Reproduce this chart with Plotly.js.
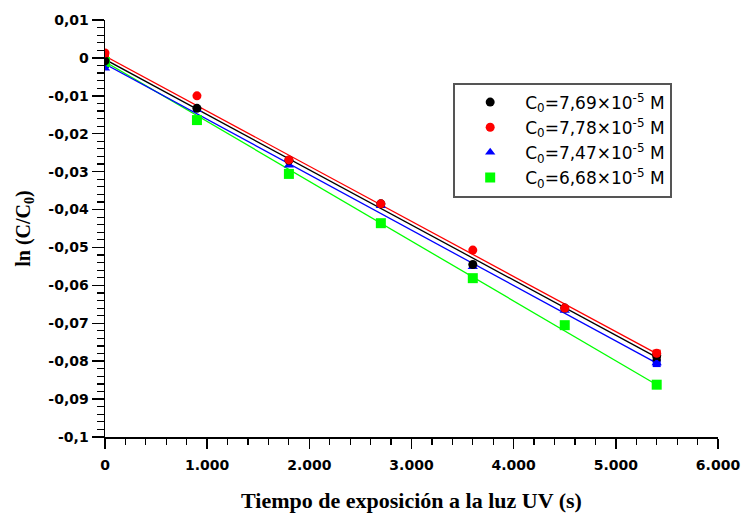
<!DOCTYPE html>
<html>
<head>
<meta charset="utf-8">
<script src="https://cdn.plot.ly/plotly-3.0.1.min.js"></script>
<style>html,body{margin:0;padding:0;background:#fff;}#chart{width:745px;height:527px;}</style>
</head>
<body>
<div id="chart"></div>
<script>
// Data
var timeS = [0, 900, 1800, 2700, 3600, 4500, 5400];
var seriesNames = [
  "C<sub>0</sub>=7,69×10<sup>-5</sup> M",
  "C<sub>0</sub>=7,78×10<sup>-5</sup> M",
  "C<sub>0</sub>=7,47×10<sup>-5</sup> M",
  "C<sub>0</sub>=6,68×10<sup>-5</sup> M"
];
var lnBlack = [-0.0008, -0.0133, -0.0270, -0.0385, -0.0545, -0.0660, -0.0785];
var lnRed   = [0.0013, -0.0100, -0.0269, -0.0385, -0.0507, -0.0660, -0.0779];
var lnBlue  = [-0.0027, -0.0137, -0.0283, -0.0390, -0.0551, -0.0666, -0.0805];
var lnGreen = [-0.0011, -0.0164, -0.0306, -0.0436, -0.0581, -0.0705, -0.0862];
// Fitted line end points
var fitX = [0, 5400];
var fitBlack = [-0.0004, -0.0790];
var fitRed   = [0.0005, -0.0780];
var fitBlue  = [-0.0016, -0.0805];
var fitGreen = [-0.0010, -0.0862];
var yTickVals = [0.01, 0, -0.01, -0.02, -0.03, -0.04, -0.05, -0.06, -0.07, -0.08, -0.09, -0.1];
var yTickText = ["0,01", "0", "-0,01", "-0,02", "-0,03", "-0,04", "-0,05", "-0,06", "-0,07", "-0,08", "-0,09", "-0,1"];
var xTickVals = [0, 1000, 2000, 3000, 4000, 5000, 6000];
var xTickText = ["0", "1.000", "2.000", "3.000", "4.000", "5.000", "6.000"];

function bold(arr) { return arr.map(function(t){ return "<b>" + t + "</b>"; }); }

var colors = ["#000000", "#ff0000", "#0000ff", "#00ff00"];
var symbols = ["circle", "circle", "triangle-up", "square"];
var pts = [lnBlack, lnRed, lnBlue, lnGreen];
var fits = [fitBlack, fitRed, fitBlue, fitGreen];

var traces = [];
var order = [3, 2, 0, 1];
order.forEach(function(i){
  traces.push({
    x: fitX, y: fits[i], mode: "lines+markers", type: "scatter",
    line: {color: colors[i], width: 1.3},
    marker: {symbol: "square", size: 8, color: colors[i]},
    showlegend: false, hoverinfo: "skip"
  });
});
order.forEach(function(i){
  traces.push({
    x: timeS, y: pts[i], mode: "markers", type: "scatter",
    name: seriesNames[i], legendrank: i + 1,
    marker: {symbol: symbols[i], size: i === 3 ? 10 : 9, color: colors[i]}
  });
});

var tickFont = {family: "DejaVu Sans", size: 14, color: "#000", weight: 700};

var layout = {
  width: 745, height: 527,
  margin: {l: 105, r: 27, t: 20, b: 90},
  paper_bgcolor: "#ffffff", plot_bgcolor: "#ffffff",
  showlegend: true,
  legend: {
    x: 0.568, y: 0.85, xanchor: "left", yanchor: "top",
    bordercolor: "#555555", borderwidth: 2, bgcolor: "#ffffff",
    font: {family: "DejaVu Sans", size: 17, color: "#000"},
    itemwidth: 60,
    traceorder: "normal"
  },
  xaxis: {
    range: [0, 6000], showgrid: false, zeroline: false,
    showline: true, linecolor: "#000", linewidth: 1.5,
    ticks: "outside", ticklen: 10, tickwidth: 1.5, tickcolor: "#000",
    tickmode: "array", tickvals: xTickVals, ticktext: bold(xTickText),
    ticklabelstandoff: 5,
    minor: {dtick: 200, ticks: "outside", ticklen: 6, tickwidth: 1.2, tickcolor: "#000", showgrid: false},
    tickfont: tickFont,
    title: {text: "<b>Tiempo de exposición a la luz UV (s)</b>", standoff: 20,
      font: {family: "Liberation Serif", size: 22, color: "#000", weight: 700}}
  },
  yaxis: {
    range: [-0.1, 0.01], showgrid: false, zeroline: false,
    showline: true, linecolor: "#000", linewidth: 1.5,
    ticks: "outside", ticklen: 12, tickwidth: 1.5, tickcolor: "#000",
    tickmode: "array", tickvals: yTickVals, ticktext: bold(yTickText),
    minor: {dtick: 0.002, ticks: "outside", ticklen: 7, tickwidth: 1.2, tickcolor: "#000", showgrid: false},
    tickfont: tickFont,
    title: {text: "<b>ln (C/C<sub>0</sub>)</b>", standoff: 12,
      font: {family: "Liberation Serif", size: 20, color: "#000", weight: 700}}
  }
};
Plotly.newPlot("chart", traces, layout, {displayModeBar: false, staticPlot: true});
</script>
</body>
</html>
